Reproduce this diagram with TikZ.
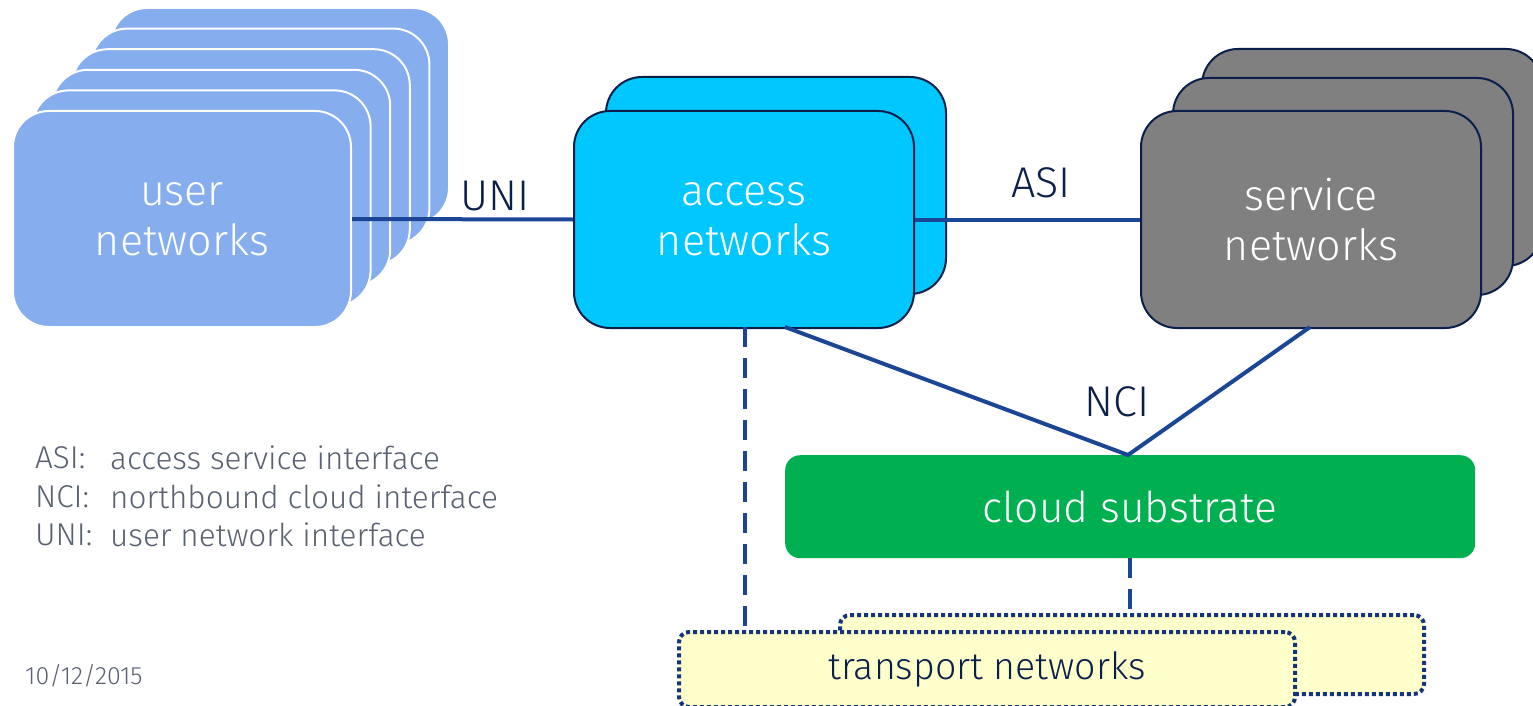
\documentclass[tikz,border=0pt]{standalone}
\usepackage{fontspec}
\setmainfont{Fira Sans}[UprightFont=* Light]
\definecolor{userfill}{HTML}{86ADEE}
\definecolor{accfill}{HTML}{00C8FF}
\definecolor{srvfill}{HTML}{808080}
\definecolor{navy}{HTML}{0B1F4B}
\definecolor{linkblue}{HTML}{1B4696}
\definecolor{dotblue}{HTML}{15357A}
\definecolor{cloudfill}{HTML}{00B050}
\definecolor{trfill}{HTML}{FFFFCC}
\definecolor{legendgray}{HTML}{5A6272}
\begin{document}
\begin{tikzpicture}[x=1pt,y=-1pt,
  netbox/.style={rounded corners=36pt, minimum width=340pt, minimum height=217pt, anchor=north west, inner sep=0pt, text=white, align=center, font=\fontsize{43}{50}\selectfont},
  userbox/.style={netbox, fill=userfill, draw=white, line width=2pt, minimum width=338pt, minimum height=216pt},
  accbox/.style={netbox, fill=accfill, draw=navy, line width=2pt},
  srvbox/.style={netbox, fill=srvfill, draw=navy, line width=2pt},
  link/.style={draw=linkblue, line width=4pt},
  dlink/.style={draw=linkblue, line width=4pt, dash pattern=on 20pt off 11pt},
  trbox/.style={fill=trfill, draw=dotblue, line width=4pt, dash pattern=on 4pt off 3pt, rounded corners=10pt, anchor=north west, inner sep=0pt},
  lbl/.style={text=navy, font=\fontsize{43}{46}\selectfont, inner sep=0pt},
  legend/.style={text=legendgray, font=\fontsize{31.5}{36}\selectfont, anchor=west, inner sep=0pt}
]
\useasboundingbox (0,0) rectangle (1533,706);
\fill[white] (0,0) rectangle (1533,706);

% user networks stack
\node[userbox] (u5) at (110,7) {};
\node[userbox] (u4) at (90.4,27.6) {};
\node[userbox] (u3) at (70.8,48.2) {};
\node[userbox] (u2) at (51.2,68.8) {};
\node[userbox] (u1) at (31.6,89.4) {};
\node[userbox] (user) at (12,110) {user\\networks};

% access networks stack
\node[accbox] (acc2) at (605,76) {};
\node[accbox] (acc) at (573,110) {access\\networks};

% service networks stack
\node[srvbox] (srv3) at (1201,48) {};
\node[srvbox] (srv2) at (1172,77) {};
\node[srvbox] (srv) at (1140,110) {service\\networks};

% cloud substrate
\node[fill=cloudfill, rounded corners=15pt, minimum width=690pt, minimum height=103pt, anchor=north west, inner sep=0pt, text=white, font=\fontsize{42.5}{46}\selectfont] (cloud) at (785,455) {cloud substrate};

% transport networks
\node[trbox, minimum width=584pt, minimum height=79pt] (tr2) at (838,613) {};
\node[trbox, minimum width=616pt, minimum height=75pt, text=navy, font=\fontsize{37.5}{42}\selectfont] (tr) at (677,630) {transport networks};

% coordinates for connector ends
\coordinate (accB) at (745,327);
\coordinate (trT) at (745,630);
\coordinate (accN) at (785,327);
\coordinate (srvN) at (1310,327);
\coordinate (cloudT) at (1128,455);
\coordinate (cloudB) at (1130,558);
\coordinate (tr2T) at (1130,613);

% links
\draw[link] (user.east) -- (acc.west);
\draw[link] (acc.east) -- (srv.west);
\draw[link] (accN) -- (cloudT) -- (srvN);
\draw[dlink] (accB) -- (trT);
\draw[dlink] (cloudB) -- (tr2T);

% labels
\node[lbl] (uni) at (495,196) {UNI};
\node[lbl] (asi) at (1041,183) {ASI};
\node[lbl] (nci) at (1117,402) {NCI};

% legend
\node[legend] (l1a) at (35,458) {ASI:};
\node[legend] (l1b) at (110,458) {access service interface};
\node[legend] (l2a) at (35,497) {NCI:};
\node[legend] (l2b) at (110,497) {northbound cloud interface};
\node[legend] (l3a) at (35,535) {UNI:};
\node[legend] (l3b) at (110,535) {user network interface};
\node[legend, font=\fontsize{25}{28}\selectfont] (date) at (25,676) {10/12/2015};
\end{tikzpicture}
\end{document}
